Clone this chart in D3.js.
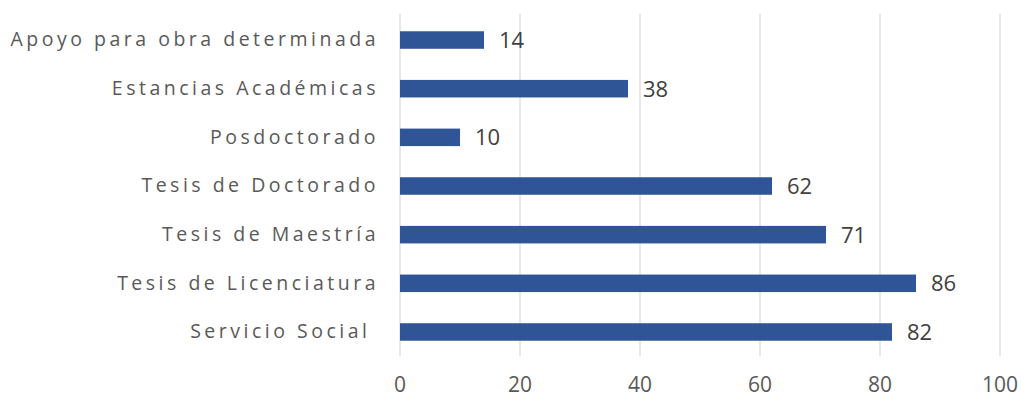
<!DOCTYPE html>
<html>
<head>
<meta charset="utf-8">
<script src="https://cdn.jsdelivr.net/npm/d3@7"></script>
<style>
  html, body { margin: 0; padding: 0; background: #ffffff; }
  svg { display: block; }
</style>
</head>
<body>
<svg id="chart" width="1021" height="398"></svg>
<script>
// Categories, top to bottom
const categories = [
  "Apoyo para obra determinada",
  "Estancias Académicas",
  "Posdoctorado",
  "Tesis de Doctorado",
  "Tesis de Maestría",
  "Tesis de Licenciatura",
  "Servicio Social "
];
const values = [14, 38, 10, 62, 71, 86, 82];
const xTicks = [0, 20, 40, 60, 80, 100];

const svg = d3.select("#chart");
const margin = { top: 15.7, right: 21, bottom: 41.7, left: 400 };
const width = 1021 - margin.left - margin.right;
const height = 398 - margin.top - margin.bottom;

const g = svg.append("g").attr("transform", `translate(${margin.left},${margin.top})`);

const x = d3.scaleLinear().domain([0, 100]).range([0, width]);
const y = d3.scaleBand().domain(categories).range([0, height]).paddingInner(0.64).paddingOuter(0.32);

// Vertical gridlines
g.selectAll("line.grid")
  .data(xTicks)
  .join("line")
  .attr("class", "grid")
  .attr("x1", d => x(d)).attr("x2", d => x(d))
  .attr("y1", -1.7).attr("y2", height)
  .attr("stroke", "#d9d9d9")
  .attr("stroke-width", 1.2);

// Bars
g.selectAll("rect.bar")
  .data(values)
  .join("rect")
  .attr("class", "bar")
  .attr("x", x(0))
  .attr("y", (d, i) => y(categories[i]))
  .attr("width", d => x(d) - x(0))
  .attr("height", y.bandwidth())
  .attr("fill", "#2f5597");

// Value labels
g.selectAll("text.val")
  .data(values)
  .join("text")
  .attr("class", "val")
  .attr("x", d => x(d) + 15)
  .attr("y", (d, i) => y(categories[i]) + y.bandwidth() / 2)
  .attr("dy", "0.36em")
  .attr("font-family", "'Open Sans', sans-serif")
  .attr("font-size", 22)
  .attr("fill", "#404040")
  .text(d => d);

// Category axis labels
const yAxis = d3.axisLeft(y).tickSize(0).tickPadding(21);
const yg = g.append("g").call(yAxis);
yg.select(".domain").remove();
yg.selectAll("text")
  .attr("font-family", "'Open Sans', sans-serif")
  .attr("font-size", 19.5)
  .attr("letter-spacing", "3.5px")
  .attr("fill", "#595959")
  .style("white-space", "pre");

// Value axis labels, baseline kept inside the bottom edge
const xg = g.append("g").attr("transform", `translate(0,${height})`);
xg.selectAll("text")
  .data(xTicks)
  .join("text")
  .attr("x", d => x(d))
  .attr("y", 392.5 - (margin.top + height))
  .attr("text-anchor", "middle")
  .attr("font-family", "'Open Sans', sans-serif")
  .attr("font-size", 21)
  .attr("fill", "#595959")
  .text(d => d);
</script>
</body>
</html>
